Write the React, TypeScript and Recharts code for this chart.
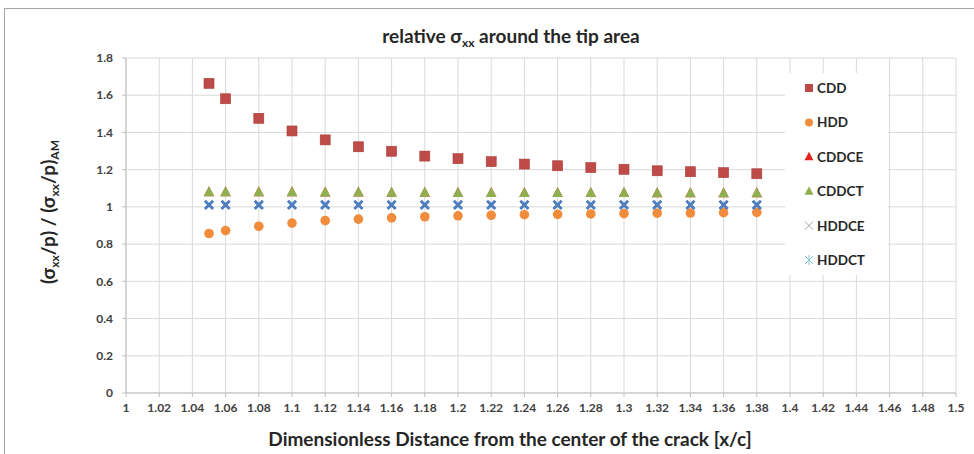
import React from "react";
import { ScatterChart, Scatter, XAxis, YAxis, CartesianGrid, Legend } from "recharts";

const xValues = [1.05, 1.06, 1.08, 1.1, 1.12, 1.14, 1.16, 1.18, 1.2, 1.22, 1.24, 1.26, 1.28, 1.3, 1.32, 1.34, 1.36, 1.38];
const cddValues = [1.664, 1.581, 1.476, 1.408, 1.36, 1.323, 1.299, 1.273, 1.259, 1.243, 1.23, 1.221, 1.211, 1.202, 1.194, 1.189, 1.184, 1.178];
const hddValues = [0.857, 0.873, 0.896, 0.913, 0.926, 0.934, 0.941, 0.947, 0.952, 0.955, 0.958, 0.96, 0.962, 0.964, 0.966, 0.967, 0.969, 0.97];
const cddceValues = [1.079, 1.079, 1.078, 1.078, 1.077, 1.077, 1.076, 1.076, 1.075, 1.075, 1.075, 1.074, 1.074, 1.074, 1.073, 1.073, 1.073, 1.073];
const cddctValues = [1.079, 1.079, 1.078, 1.078, 1.077, 1.077, 1.076, 1.076, 1.075, 1.075, 1.075, 1.074, 1.074, 1.074, 1.073, 1.073, 1.073, 1.073];
const hddceValues = [1.011, 1.011, 1.011, 1.011, 1.011, 1.011, 1.011, 1.011, 1.011, 1.011, 1.011, 1.011, 1.011, 1.011, 1.011, 1.011, 1.011, 1.011];
const hddctValues = [1.011, 1.011, 1.011, 1.011, 1.011, 1.011, 1.011, 1.011, 1.011, 1.011, 1.011, 1.011, 1.011, 1.011, 1.011, 1.011, 1.011, 1.011];

const xTicks = [1, 1.02, 1.04, 1.06, 1.08, 1.1, 1.12, 1.14, 1.16, 1.18, 1.2, 1.22, 1.24, 1.26, 1.28, 1.3, 1.32, 1.34, 1.36, 1.38, 1.4, 1.42, 1.44, 1.46, 1.48, 1.5];
const yTicks = [0, 0.2, 0.4, 0.6, 0.8, 1, 1.2, 1.4, 1.6, 1.8];

const toPoints = (ys: number[]) => xValues.map((x, i) => ({ x, y: ys[i] }));

const FONT = "Lato, 'Open Sans', sans-serif";

const SquareShape = (p: any) => (
  <rect x={p.cx - 5} y={p.cy - 5} width={10} height={10} fill="#BE4B48" stroke="#A83E3B" strokeWidth={0.6} />
);
const CircleShape = (p: any) => <circle cx={p.cx} cy={p.cy} r={4.8} fill="#F08C3C" />;
const TriangleShape = (color: string) => (p: any) => (
  <polygon points={`${p.cx},${p.cy - 6} ${p.cx - 5.2},${p.cy + 4} ${p.cx + 5.2},${p.cy + 4}`} fill={color} />
);
const XShape = (color: string) => (p: any) => (
  <g stroke={color} strokeWidth={2.6}>
    <line x1={p.cx - 4} y1={p.cy - 4} x2={p.cx + 4} y2={p.cy + 4} />
    <line x1={p.cx - 4} y1={p.cy + 4} x2={p.cx + 4} y2={p.cy - 4} />
  </g>
);

type SeriesDef = { name: string; values: number[]; shape: any; legend: (cx: number, cy: number) => React.ReactNode };

const series: SeriesDef[] = [
  {
    name: "CDD",
    values: cddValues,
    shape: SquareShape,
    legend: (cx, cy) => <rect x={cx - 4} y={cy - 4} width={8} height={8} fill="#BE4B48" />,
  },
  {
    name: "HDD",
    values: hddValues,
    shape: CircleShape,
    legend: (cx, cy) => <circle cx={cx} cy={cy} r={4} fill="#F08C3C" />,
  },
  {
    name: "CDDCE",
    values: cddceValues,
    shape: TriangleShape("#E3241E"),
    legend: (cx, cy) => <polygon points={`${cx},${cy - 5} ${cx - 4.5},${cy + 3.5} ${cx + 4.5},${cy + 3.5}`} fill="#E3241E" />,
  },
  {
    name: "CDDCT",
    values: cddctValues,
    shape: TriangleShape("#8FB04F"),
    legend: (cx, cy) => <polygon points={`${cx},${cy - 5} ${cx - 4.5},${cy + 3.5} ${cx + 4.5},${cy + 3.5}`} fill="#8FB04F" />,
  },
  {
    name: "HDDCE",
    values: hddceValues,
    shape: XShape("#5A7FB5"),
    legend: (cx, cy) => (
      <g stroke="#A6A6A6" strokeWidth={1}>
        <line x1={cx - 4} y1={cy - 4} x2={cx + 4} y2={cy + 4} />
        <line x1={cx - 4} y1={cy + 4} x2={cx + 4} y2={cy - 4} />
      </g>
    ),
  },
  {
    name: "HDDCT",
    values: hddctValues,
    shape: XShape("#4F7EC0"),
    legend: (cx, cy) => (
      <g stroke="#7CC7D3" strokeWidth={1}>
        <line x1={cx - 4} y1={cy - 4} x2={cx + 4} y2={cy + 4} />
        <line x1={cx - 4} y1={cy + 4} x2={cx + 4} y2={cy - 4} />
        <line x1={cx} y1={cy - 5} x2={cx} y2={cy + 5} />
      </g>
    ),
  },
];

const LegendContent = () => (
  <div style={{ background: "#ffffff", width: 103, height: 202, position: "relative" }}>
    <svg width={103} height={202} style={{ display: "block" }}>
      {series.map((s, i) => {
        const cy = 15 + i * 34.4;
        return (
          <g key={s.name}>
            {s.legend(24, cy)}
            <text x={32} y={cy + 5} fontFamily={FONT} fontWeight="bold" fontSize={13.5} fill="#262626">
              {s.name}
            </text>
          </g>
        );
      })}
    </svg>
  </div>
);

const tickStyle = { fontFamily: FONT, fontSize: 12, fontWeight: "bold" as const, fill: "#404040" };

export default function App() {
  return (
    <div style={{ position: "absolute", left: 0, top: 0, width: 974, height: 454, background: "#fff" }}>
      <ScatterChart width={974} height={454} margin={{ top: 58, right: 18, bottom: 31, left: 66 }}>
        <CartesianGrid stroke="#D9D9D9" strokeWidth={1} />
        <XAxis
          type="number"
          dataKey="x"
          domain={[1, 1.5]}
          ticks={xTicks}
          interval={0}
          tickFormatter={(v: number) => String(Number(v.toFixed(2)))}
          height={30}
          stroke="#BFBFBF"
          tickSize={4}
          tickMargin={6}
          tick={tickStyle}
          allowDataOverflow
        />
        <YAxis
          type="number"
          dataKey="y"
          domain={[0, 1.8]}
          ticks={yTicks}
          interval={0}
          tickFormatter={(v: number) => String(Number(v.toFixed(1)))}
          width={60}
          stroke="#BFBFBF"
          tickSize={4}
          tickMargin={9}
          tick={tickStyle}
          allowDataOverflow
        />
        {series.map((s) => (
          <Scatter key={s.name} name={s.name} data={toPoints(s.values)} shape={s.shape} isAnimationActive={false} />
        ))}
        <Legend
          layout="vertical"
          align="center"
          verticalAlign="middle"
          content={<LegendContent />}
          wrapperStyle={{ left: 785, top: 73, width: 103, height: 202 }}
        />
      </ScatterChart>
      <svg
        width={974}
        height={454}
        style={{ position: "absolute", left: 0, top: 0, pointerEvents: "none" }}
      >
        <rect x={4.5} y={8.5} width={1000} height={500} fill="none" stroke="#A6A6A6" strokeWidth={1} />
        <text x={511} y={43} textAnchor="middle" fontFamily={FONT} fontWeight="bold" fontSize={19} fill="#262626">
          relative σ<tspan fontSize={12} dy={4}>xx</tspan>
          <tspan dy={-4}> around the tip area</tspan>
        </text>
        <text x={510} y={446} textAnchor="middle" fontFamily={FONT} fontWeight="bold" fontSize={19} fill="#262626">
          Dimensionless Distance from the center of the crack [x/c]
        </text>
        <text
          transform="translate(55,212) rotate(-90)"
          textAnchor="middle"
          fontFamily={FONT}
          fontWeight="bold"
          fontSize={19}
          fill="#262626"
        >
          (σ<tspan fontSize={12} dy={4}>xx</tspan>
          <tspan dy={-4}>/p) / (σ</tspan>
          <tspan fontSize={12} dy={4}>xx</tspan>
          <tspan dy={-4}>/p)</tspan>
          <tspan fontSize={12} dy={4}>AM</tspan>
        </text>
      </svg>
    </div>
  );
}
